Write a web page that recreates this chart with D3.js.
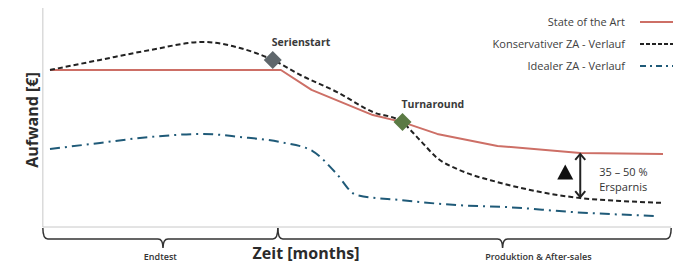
<!DOCTYPE html>
<html>
<head>
<meta charset="utf-8">
<script src="https://cdn.jsdelivr.net/npm/d3@7"></script>
<style>
  body { margin: 0; background: #fff; }
  svg text { font-family: "Open Sans", Lato, sans-serif; }
</style>
</head>
<body>
<div id="chart"></div>
<script>
// months on x, relative effort (0-100) on y
const stateMonths = [0, 22.6, 25.6, 31.6, 34.5, 37.9, 43.8, 51.9, 60];
const stateValues = [71.7, 71.7, 62.6, 51.1, 47.9, 42.5, 37, 33.8, 33.3];

const konsMonths = [0, 4.9, 9.8, 15, 18.6, 21.8, 24.5, 28.1, 31.6, 34.3, 36.2, 37.9, 40.1, 43.8, 47, 51.9, 55.8, 60];
const konsValues = [71.7, 76.3, 80.8, 84.5, 81.7, 76.3, 69.4, 61.6, 52.5, 48.4, 39.7, 31.5, 26, 20.5, 16.9, 13.2, 11.9, 11];

const idealMonths = [0, 4.9, 9.8, 15, 18.6, 22.5, 25.7, 27.9, 30, 34.3, 39.8, 44.7, 51.2, 59.5];
const idealValues = [35.6, 38.4, 41.1, 42.5, 41.1, 38.8, 34.7, 25.1, 14.6, 12.3, 10, 9.1, 6.8, 5];

const seriesNames = ["State of the Art", "Konservativer ZA - Verlauf", "Idealer ZA - Verlauf"];
const milestones = [
    { name: "Serienstart", month: 21.8, value: 76.3, color: "#5f676c" },
    { name: "Turnaround", month: 34.5, value: 47.9, color: "#5b7a44" }
];
const phases = [
    { name: "Endtest", from: -0.7, to: 22.3, tipAt: 11.06, labelAt: 10.8 },
    { name: "Produktion & After-sales", from: 22.3, to: 60.8, tipAt: 44.3, labelAt: 47.8 }
];
const savingMonth = 51.9;
const savingFrom = 33.8, savingTo = 13.2;
const savingText = ["35 – 50 %", "Ersparnis"];

const width = 675, height = 265;
const svg = d3.select("#chart").append("svg")
    .attr("width", width)
    .attr("height", height);

const x = d3.scaleLinear().domain([0, 60]).range([50, 663]);
const y = d3.scaleLinear().domain([0, 100]).range([227, 8]);

// axis frame
svg.append("line")
    .attr("x1", x(-0.7)).attr("x2", x(-0.7))
    .attr("y1", y(100)).attr("y2", y(0))
    .style("stroke", "#c8c8c8").style("stroke-width", 1);
svg.append("line")
    .attr("x1", x(-0.7)).attr("x2", x(60.8))
    .attr("y1", y(0)).attr("y2", y(0))
    .style("stroke", "#c8c8c8").style("stroke-width", 1);

const smooth = d3.line()
    .x(d => x(d[0]))
    .y(d => y(d[1]))
    .curve(d3.curveMonotoneX);
const straight = d3.line()
    .x(d => x(d[0]))
    .y(d => y(d[1]));

const series = [
    { pts: d3.zip(stateMonths, stateValues), color: "#cd6f66", dash: null, gen: straight },
    { pts: d3.zip(konsMonths, konsValues), color: "#222", dash: "5,3", gen: smooth },
    { pts: d3.zip(idealMonths, idealValues), color: "#1f5a78", dash: "10,5,2,5", gen: smooth }
];

svg.append("g").selectAll("path")
    .data(series)
    .enter().append("path")
    .attr("d", d => d.gen(d.pts))
    .attr("fill", "none")
    .style("stroke", d => d.color)
    .style("stroke-width", 2)
    .style("stroke-linejoin", "round")
    .style("stroke-dasharray", d => d.dash);

// milestones
milestones.forEach(m => {
    const cx = x(m.month), cy = y(m.value);
    svg.append("path")
        .attr("d", `M${cx},${cy - 9}L${cx + 9},${cy}L${cx},${cy + 9}L${cx - 9},${cy}Z`)
        .attr("fill", m.color);
    svg.append("text")
        .attr("x", cx - 1)
        .attr("y", cy - 14)
        .style("font-size", "10.5px")
        .style("font-weight", "bold")
        .style("fill", "#3a3a3a")
        .text(m.name);
});

// legend
const legend = svg.append("g");
seriesNames.forEach((name, i) => {
    const ly = 22 + i * 22;
    legend.append("text")
        .attr("x", 625)
        .attr("y", ly + 4)
        .attr("text-anchor", "end")
        .style("font-size", "11px")
        .style("fill", "#404040")
        .text(name);
    legend.append("line")
        .attr("x1", 640).attr("x2", 673)
        .attr("y1", ly).attr("y2", ly)
        .style("stroke", series[i].color)
        .style("stroke-width", 2)
        .style("stroke-dasharray", i === 1 ? "4,2" : (i === 2 ? "6,4,2,4" : null));
});

// savings arrow
const ax = x(savingMonth);
const ay1 = y(savingFrom) + 1, ay2 = y(savingTo) - 1;
svg.append("line")
    .attr("x1", ax).attr("x2", ax)
    .attr("y1", ay1).attr("y2", ay2)
    .style("stroke", "#222").style("stroke-width", 2);
svg.append("path")
    .attr("d", `M${ax - 5},${ay1 + 6}L${ax},${ay1}L${ax + 5},${ay1 + 6}M${ax - 5},${ay2 - 6}L${ax},${ay2}L${ax + 5},${ay2 - 6}`)
    .attr("fill", "none")
    .style("stroke", "#222").style("stroke-width", 2);
const tx = ax - 15, tyMid = (ay1 + ay2) / 2 - 4;
svg.append("path")
    .attr("d", `M${tx - 8},${tyMid + 8}L${tx},${tyMid - 7}L${tx + 8},${tyMid + 8}Z`)
    .attr("fill", "#111");
savingText.forEach((t, i) => {
    svg.append("text")
        .attr("x", ax + 19)
        .attr("y", tyMid + 4 + i * 15)
        .style("font-size", "11px")
        .style("fill", "#333")
        .text(t);
});

// phase braces
const braceTop = y(0) + 1, braceMid = 239, braceTip = 248;
phases.forEach(p => {
    const x0 = x(p.from), x1 = x(p.to), xm = x(p.tipAt);
    const r = 5;
    const d = `M${x0},${braceTop}Q${x0},${braceMid} ${x0 + r},${braceMid}` +
        `L${xm - r},${braceMid}Q${xm},${braceMid} ${xm},${braceTip}` +
        `Q${xm},${braceMid} ${xm + r},${braceMid}` +
        `L${x1 - r},${braceMid}Q${x1},${braceMid} ${x1},${braceTop}`;
    svg.append("path")
        .attr("d", d)
        .attr("fill", "none")
        .style("stroke", "#333").style("stroke-width", 1.5);
    svg.append("text")
        .attr("x", x(p.labelAt))
        .attr("y", 260)
        .attr("text-anchor", "middle")
        .style("font-size", "9px")
        .style("font-weight", "600")
        .style("fill", "#333")
        .text(p.name);
});

// axis titles
svg.append("text")
    .attr("x", 306)
    .attr("y", 259)
    .attr("text-anchor", "middle")
    .style("font-size", "16px")
    .style("font-weight", "bold")
    .style("fill", "#2b2b2b")
    .text("Zeit [months]");

svg.append("text")
    .attr("transform", "translate(38,120) rotate(-90)")
    .attr("text-anchor", "middle")
    .style("font-size", "16px")
    .style("font-weight", "bold")
    .style("fill", "#2b2b2b")
    .text("Aufwand [€]");
</script>
</body>
</html>
